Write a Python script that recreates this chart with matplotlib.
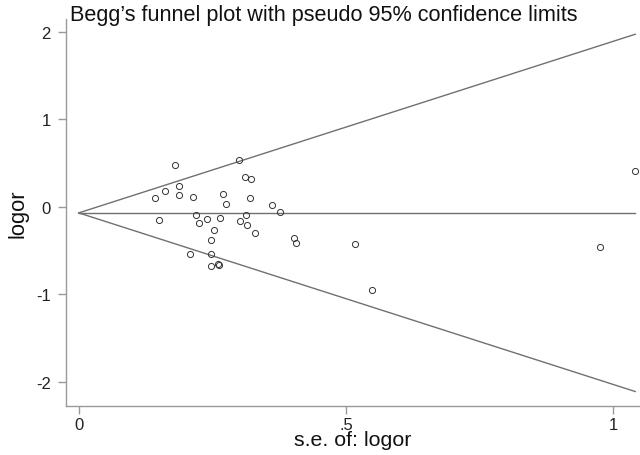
import matplotlib
matplotlib.use("Agg")
import matplotlib.pyplot as plt
import numpy as np

plt.rcParams['font.family'] = ['Liberation Sans', 'DejaVu Sans']
plt.rcParams['axes.unicode_minus'] = False

# standard errors and log odds ratios
se = [0.142, 0.151, 0.161, 0.181, 0.187, 0.188, 0.209, 0.213, 0.219, 0.225,
      0.240, 0.247, 0.247, 0.248, 0.253, 0.261, 0.263, 0.265, 0.270, 0.276,
      0.299, 0.301, 0.311, 0.313, 0.315, 0.321, 0.323, 0.330, 0.362, 0.376,
      0.402, 0.406, 0.517, 0.548, 0.975, 1.041]
logor = [0.105, -0.150, 0.178, 0.472, 0.140, 0.235, -0.535, 0.115, -0.095, -0.180,
         -0.138, -0.374, -0.535, -0.680, -0.265, -0.655, -0.665, -0.125, 0.150, 0.030,
         0.538, -0.165, 0.345, -0.090, -0.205, 0.105, 0.318, -0.300, 0.015, -0.065,
         -0.360, -0.413, -0.430, -0.950, -0.465, 0.410]

pooled = -0.07
xticks = [0, 0.5, 1]
xticklabels = ['0', '.5', '1']
yticks = [-2, -1, 0, 1, 2]

fig = plt.figure(figsize=(6.4, 4.56), dpi=100)
ax = fig.add_axes([0.103, 0.108, 0.897, 0.848])

# pseudo 95% confidence limits
s = np.array([0, max(se)])
ax.plot(s, pooled + 1.96 * s, color='#707070', lw=1.0)
ax.plot(s, pooled - 1.96 * s, color='#707070', lw=1.0)
ax.plot(s, [pooled, pooled], color='#707070', lw=1.0)

ax.plot(se, logor, 'o', ms=4.4, mfc='none', mec='#333333', mew=0.7)

ax.set_xlim(-0.024, 1.05)
ax.set_ylim(-2.273, 2.144)
ax.set_xticks(xticks)
ax.set_xticklabels(xticklabels)
ax.set_yticks(yticks)
ax.set_yticklabels([str(v) for v in yticks])

for side in ['top', 'right']:
    ax.spines[side].set_visible(False)
for side in ['left', 'bottom']:
    ax.spines[side].set_color('#999999')
    ax.spines[side].set_linewidth(1.0)
ax.tick_params(axis='both', colors='#999999', labelcolor='#222222',
               labelsize=12, length=6, width=1.0, pad=2)
ax.tick_params(axis='y', pad=5)

ax.set_xlabel('s.e. of: logor', fontsize=15.4, labelpad=-1, color='#111111')
ax.set_ylabel('logor', fontsize=15.8, labelpad=5, color='#111111')
fig.text(0.109, 0.966, 'Begg\u2019s funnel plot with pseudo 95% confidence limits',
         fontsize=15.6, color='#111111', va='center', ha='left')

fig.savefig('out.png', dpi=100)
